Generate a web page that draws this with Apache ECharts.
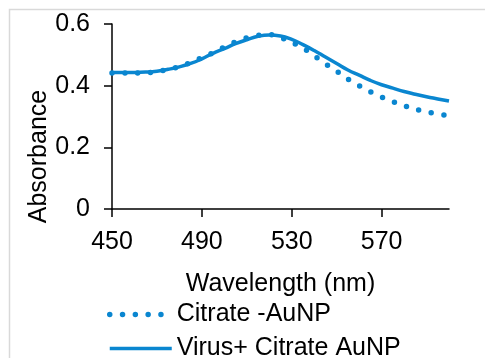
<!DOCTYPE html>
<html>
<head>
<meta charset="utf-8">
<script src="https://cdn.jsdelivr.net/npm/echarts@6/dist/echarts.min.js"></script>
<style>
html,body{margin:0;padding:0;background:#fff;}
#chart{width:485px;height:358px;}
</style>
</head>
<body>
<div id="chart"></div>
<script>
var wavelengths = [450,455,460,465,470,475,480,485,490,495,500,505,510,515,520,525,530,535,540,545,550,555,560,565,570,575,580,585,590,595,600];
var citrateAuNP = [0.441,0.441,0.441,0.442,0.446,0.453,0.462,0.475,0.491,0.507,0.525,0.542,0.555,0.563,0.565,0.556,0.540,0.522,0.497,0.471,0.447,0.421,0.400,0.380,0.363,0.348,0.335,0.324,0.315,0.308,0.302];
var virusCitrateAuNP = [0.443,0.443,0.443,0.444,0.447,0.453,0.461,0.472,0.487,0.505,0.520,0.536,0.549,0.560,0.564,0.561,0.550,0.533,0.514,0.493,0.472,0.451,0.434,0.417,0.403,0.392,0.381,0.372,0.364,0.357,0.350];
var xTicks = [450,490,530,570];
var yTicks = [0,0.2,0.4,0.6];
var seriesNames = ['Citrate -AuNP','Virus+ Citrate AuNP'];

function pairs(ys){ return wavelengths.map(function(x,i){ return [x, ys[i]]; }); }

var blue = '#0a86d0';
var font = 'Liberation Sans, Arial, sans-serif';
var dottedStyle = {color: blue, width: 5.5, type: [0, 12.8], cap: 'round'};
var solidStyle = {color: blue, width: 3.5};
var chart = echarts.init(document.getElementById('chart'));
chart.setOption({
  animation: false,
  backgroundColor: '#fff',
  graphic: [{
    type: 'rect', left: 7, top: 7, z: -1,
    shape: {width: 500, height: 400},
    style: {fill: 'none', stroke: '#d9d9d9', lineWidth: 1.5}
  }],
  grid: {left: 112, right: 36, top: 24, bottom: 149, containLabel: false},
  xAxis: {
    type: 'value', min: 450, max: 600, interval: 40,
    name: 'Wavelength (nm)', nameLocation: 'middle', nameGap: 63, nameMoveOverlap: false,
    nameTextStyle: {fontSize: 25, color: '#000', fontFamily: font},
    axisLine: {show: true, onZero: false, lineStyle: {color: '#000', width: 1.5}},
    axisTick: {show: true, length: 8, inside: false, customValues: xTicks, lineStyle: {color: '#000', width: 1.5}},
    axisLabel: {customValues: xTicks, fontSize: 25, color: '#000', fontFamily: font, margin: 21},
    splitLine: {show: false}
  },
  yAxis: {
    type: 'value', min: 0, max: 0.6, interval: 0.2,
    name: 'Absorbance', nameLocation: 'middle', nameGap: 60, nameMoveOverlap: false,
    nameTextStyle: {fontSize: 25, color: '#000', fontFamily: font, padding: [0, 80, 0, 0]},
    axisLine: {show: true, lineStyle: {color: '#000', width: 1.5}},
    axisTick: {show: true, length: 8, lineStyle: {color: '#000', width: 1.5}},
    axisLabel: {customValues: yTicks, fontSize: 25, color: '#000', fontFamily: font, margin: 22, padding: [3, 0, 0, 0]},
    splitLine: {show: false}
  },
  legend: {
    orient: 'vertical', left: 102, top: 297, height: 120, itemGap: 9,
    itemWidth: 62, itemHeight: 14,
    itemStyle: {opacity: 0},
    textStyle: {fontSize: 25, color: '#000', fontFamily: font},
    data: [
      {name: seriesNames[0], lineStyle: dottedStyle},
      {name: seriesNames[1], lineStyle: solidStyle}
    ]
  },
  series: [{
    name: seriesNames[0], type: 'line', data: pairs(citrateAuNP),
    symbol: 'none', smooth: true, z: 3,
    lineStyle: dottedStyle,
    itemStyle: {color: blue}
  },{
    name: seriesNames[1], type: 'line', data: pairs(virusCitrateAuNP),
    symbol: 'none', smooth: true, z: 2,
    lineStyle: solidStyle,
    itemStyle: {color: blue}
  }]
});
</script>
</body>
</html>
